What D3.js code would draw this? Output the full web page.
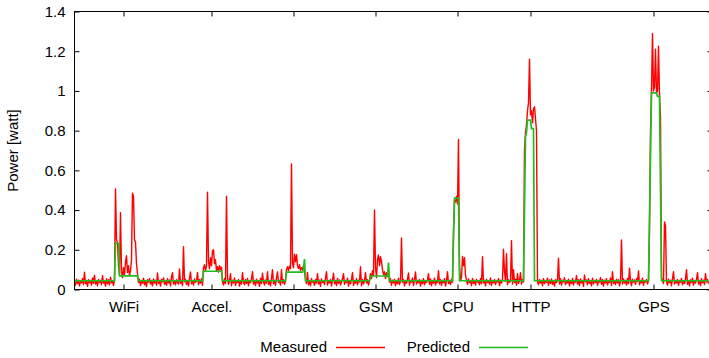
<!DOCTYPE html>
<html>
<head>
<meta charset="utf-8">
<script src="https://cdn.jsdelivr.net/npm/d3@7"></script>
<style>
    body { margin: 0; background: #fff; }
    svg { display: block; font-family: 'Liberation Sans', Arial, sans-serif; }
</style>
</head>
<body>
<div id="chart"></div>
<script>
// =============================================================================
// Data - measured power trace in milliwatt, one sample per step
// =============================================================================
const idleStart = [38,21,52,30,47,18,44,33,56,25,87,29,41,16,50,35,45,22,58,31,72,27,43,19,51,36,46,24,70,32,40,17,54,28,49,23,62,34,42,20,48];
const wifiRun = [506,250,235,120,75,387,90,60,110,75,140,170,85,120,70,95,150,485,470,250,240,130,80];
const idleAfterWifi = [35,52,20,46,31,57,24,43,15,49,37,55,27,42,19,53,33,47,22,83,30,45,17,51,38,58,26,41,21,54,34,48,18,62,85,28,44,23,50,36,27,103,31,46,20,216,39,52,25,43,18,57,88,29,45,22,53,36,41,86,24,49,33,55,21];
const accelRun = [110,125,95,118,490,140,105,160,120,195,200,130,150,95,115,88,120,100,112];
const idleAfterAccel = [40,22,55,30,470,60,26,44,80,19,47,33,58,21,42,36,51,17,45,28,85,38,24,50,31,56,19,43,35,53,90,27,46,20,52,34,41,16,57,30,82,39,23,48,32,90,25,44,18,54,100,29,47,21,58,88,36,42,22,100,33,49,26,45];
const compassRun = [100,115,95,118,105,632,130,110,178,140,175,120,105,125,95,110,100,120,90];
const idleAfterCompass = [52,30,86,24,45,19,55,37,42,21,50,33,80,27,47,16,53,36,44,25,58,90,22,41,34,51,18,46,82,29,43,20,56,31,48,23,39,54,80,26,45,35,57,17,42,29,50,85,21,44,32,55,24,47,38,115,19,51,28,43,85,33,49,22,46];
const gsmRun = [80,55,95,70,400,110,60,150,174,120,165,140,100,75,90,55,85,65,100];
const idleAfterGsm = [38,55,21,47,33,52,19,44,29,57,25,42,260,36,50,18,46,31,54,83,22,45,37,58,20,49,88,27,43,34,51,17,46,30,55,24,41,35,48,80,26,53,19,44,32,57,23,40,36,95,28,50,21,47,34,54,18,43,90,30,45,25,52,37];
const cpuRun = [300,450,440,470,430,756,120];
const idleAfterCpu = [45,60,166,120,160,70,48,26,53,35,44,19,56,31,47,22,51,37,42,24,55,29,165,33,46,18,52,36,41,27,58,21,45,34,50,25,43,38,55,20,47,32,53,203,90,41,180,24,49,36,44,246,28,100,35,52,22,80,31,46,85,27,50,38];
const httpRun = [700,790,830,900,940,1160,880,900,840,910,920,860,800];
const idleAfterHttp = [40,24,51,33,46,19,55,29,43,36,57,21,48,31,53,26,42,17,50,35,45,158,28,54,22,47,38,59,25,41,33,52,18,46,30,56,23,44,37,70,27,49,20,53,34,45,16,73,39,48,24,55,31,42,19,57,28,46,35,51,21,44,38,60,26,50,17,47,32,54,23,43,36,58,20,90,30,45,25,52,34,49,18,41,250,27,53,33,46,22,56,30,107,44,19,52,37,48,26,55,40,93,24,45,33,57,21,43,38,50,28,46];
const gpsRun = [300,800,1000,1290,1000,1020,1210,990,1000,1225,980,870,60];
const idleEnd = [45,30,340,320,40,22,52,35,47,19,55,90,28,43,33,50,21,46,37,56,24,41,30,53,100,26,44,18,49,36,57,22,45,32,51,85,27,42,20,54,34,47,25,80,38,50,29];

// Predicted model output: step positions (sample index) and levels (milliwatt)
const predictedIdx = [0,40,41,44,45,63,64,128,129,147,148,211,212,228,229,230,231,295,296,313,314,315,378,380,384,385,449,451,452,453,456,457,459,460,574,577,582,583,585,587,634];
const predictedMw = [44,44,233,233,69,69,44,44,92,92,44,44,88,88,105,153,44,44,68,68,136,44,44,460,460,44,44,770,790,853,853,810,810,44,44,990,990,973,973,44,44];

// Workload labels on the time axis and the sample where each one sits
const categories = ['WiFi', 'Accel.', 'Compass', 'GSM', 'CPU', 'HTTP', 'GPS'];
const categoryIdx = [49, 137, 219, 301, 383, 456, 579];

const yTicks = [0, 0.2, 0.4, 0.6, 0.8, 1, 1.2, 1.4];
const seriesNames = ['Measured', 'Predicted'];

// =============================================================================
// Visual Configuration
// =============================================================================
const WIDTH = 709;
const HEIGHT = 358;
const PLOT = { left: 74.5, right: 712.5, top: 11.5, bottom: 289.5 };
const MEASURED_COLOR = '#ff0000';
const PREDICTED_COLOR = '#1fbf1f';
const FONT_SIZE = 15;
const TICK_LEN = 5;

const measured = [].concat(idleStart, wifiRun, idleAfterWifi, accelRun, idleAfterAccel,
    compassRun, idleAfterCompass, gsmRun, idleAfterGsm, cpuRun, idleAfterCpu,
    httpRun, idleAfterHttp, gpsRun, idleEnd);
const predicted = predictedIdx.map((d, i) => ({ i: d, v: predictedMw[i] }));

const svg = d3.select('#chart')
    .append('svg')
    .attr('width', WIDTH)
    .attr('height', HEIGHT);

const x = d3.scaleLinear()
    .domain([0, 638])
    .range([PLOT.left, PLOT.right]);

const y = d3.scaleLinear()
    .domain([0, 1.4])
    .range([PLOT.bottom, PLOT.top]);

const fmt = d3.format('.1~f');

// Axes (gnuplot style: inward ticks, mirrored on top and right)
svg.append('g')
    .attr('transform', `translate(${PLOT.left},0)`)
    .call(d3.axisLeft(y).tickValues(yTicks).tickFormat(fmt).tickSize(-TICK_LEN).tickPadding(9));

svg.append('g')
    .attr('transform', `translate(${PLOT.right},0)`)
    .call(d3.axisRight(y).tickValues(yTicks).tickFormat('').tickSize(-TICK_LEN));

svg.append('g')
    .attr('transform', `translate(0,${PLOT.bottom})`)
    .call(d3.axisBottom(x).tickValues(categoryIdx).tickFormat((d, i) => categories[i])
        .tickSize(-TICK_LEN).tickPadding(11.5));

svg.append('g')
    .attr('transform', `translate(0,${PLOT.top})`)
    .call(d3.axisTop(x).tickValues(categoryIdx).tickFormat('').tickSize(-TICK_LEN));

svg.selectAll('.domain').remove();
svg.selectAll('.tick line').attr('stroke', '#000');
svg.selectAll('.tick text')
    .attr('font-size', FONT_SIZE)
    .attr('font-family', "'Liberation Sans', Arial, sans-serif")
    .attr('fill', '#000');

// Series
const line = d3.line()
    .x(d => x(d.i))
    .y(d => y(d.v / 1000));

svg.append('path')
    .datum(measured.map((v, i) => ({ i, v })))
    .attr('fill', 'none')
    .attr('stroke', MEASURED_COLOR)
    .attr('stroke-width', 1.4)
    .attr('stroke-linejoin', 'round')
    .attr('d', line);

svg.append('path')
    .datum(predicted)
    .attr('fill', 'none')
    .attr('stroke', PREDICTED_COLOR)
    .attr('stroke-width', 1.7)
    .attr('d', line);

// Frame
svg.append('rect')
    .attr('x', PLOT.left)
    .attr('y', PLOT.top)
    .attr('width', PLOT.right - PLOT.left)
    .attr('height', PLOT.bottom - PLOT.top)
    .attr('fill', 'none')
    .attr('stroke', '#000')
    .attr('stroke-width', 1);

// Y label
svg.append('text')
    .attr('transform', `translate(18,${(PLOT.top + PLOT.bottom) / 2}) rotate(-90)`)
    .attr('text-anchor', 'middle')
    .attr('font-size', FONT_SIZE)
    .text('Power [watt]');

// Legend
const legendColors = [MEASURED_COLOR, PREDICTED_COLOR];
const legendTextEnd = [327, 470];
seriesNames.forEach((name, i) => {
    svg.append('text')
        .attr('x', legendTextEnd[i])
        .attr('y', 352)
        .attr('text-anchor', 'end')
        .attr('font-size', FONT_SIZE)
        .text(name);
    svg.append('line')
        .attr('x1', legendTextEnd[i] + 9)
        .attr('x2', legendTextEnd[i] + 58)
        .attr('y1', 347.5)
        .attr('y2', 347.5)
        .attr('stroke', legendColors[i])
        .attr('stroke-width', 1.5);
});
</script>
</body>
</html>
